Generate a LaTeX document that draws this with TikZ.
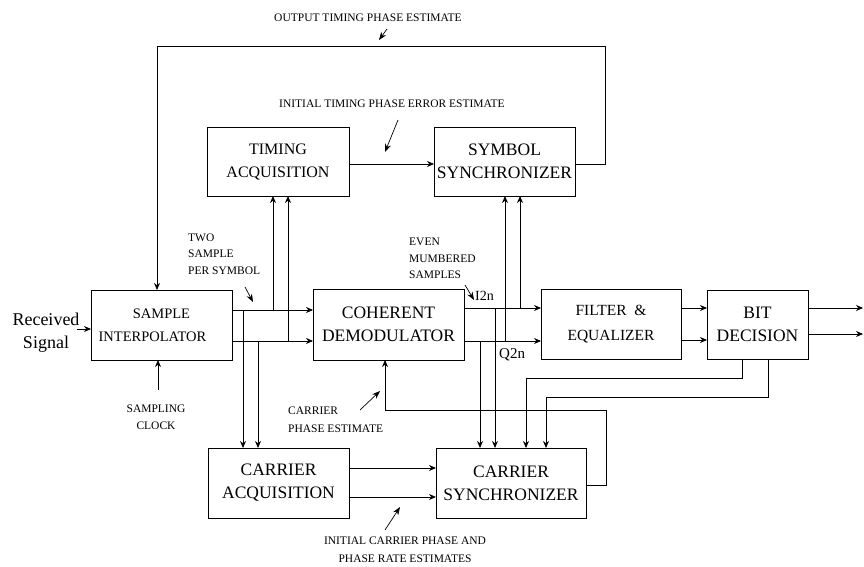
\documentclass[tikz,border=0pt]{standalone}
\usepackage{fontspec}
\setmainfont{Liberation Serif}
\usetikzlibrary{arrows.meta}

\begin{document}
\begin{tikzpicture}[
    x=1pt, y=-1pt,
    block/.style={draw, line width=0.8pt, inner sep=0pt, outer sep=0pt, align=center, font=\fontsize{17.5}{23}\selectfont},
    note/.style={inner sep=0pt, font=\fontsize{11.5}{16.5}\selectfont},
    arrow/.style={-{Stealth[length=7pt,width=6pt]}, line width=0.8pt},
    pointer/.style={-{Stealth[length=8pt,width=6pt]}, line width=0.7pt}
  ]
    \useasboundingbox (0,0) rectangle (864,567);

    % blocks
    \node[block, minimum width=141pt, minimum height=70pt, font=\fontsize{14.5}{23}\selectfont] (interp) at (161.5,325) {SAMPLE\\INTERPOLATOR\hspace*{18pt}};
    \node[block, minimum width=142pt, minimum height=69pt, font=\fontsize{16}{23}\selectfont] (tacq) at (278,161.5) {TIMING\\ACQUISITION};
    \node[block, minimum width=141pt, minimum height=69pt] (ssync) at (504.5,161.5) {SYMBOL\\SYNCHRONIZER};
    \node[block, minimum width=151pt, minimum height=71pt] (cdem) at (388.5,324.5) {COHERENT\\DEMODULATOR};
    \node[block, minimum width=140pt, minimum height=70pt, font=\fontsize{15.5}{25}\selectfont] (filt) at (611,324) {FILTER \ \&\\EQUALIZER};
    \node[block, minimum width=101pt, minimum height=69pt] (bitd) at (757.5,324.5) {BIT\\DECISION};
    \node[block, minimum width=141pt, minimum height=70pt] (cacq) at (278.5,483) {CARRIER\\ACQUISITION};
    \node[block, minimum width=150pt, minimum height=70pt] (csync) at (511,483) {CARRIER\\SYNCHRONIZER};

    % labels
    \node[inner sep=0pt, align=center, font=\fontsize{18}{23}\selectfont] (rx) at (46,333) {Received\\Signal};
    \node[note] (outlbl) at (368,18) {OUTPUT TIMING PHASE ESTIMATE};
    \node[note] (itlbl) at (392,104) {INITIAL TIMING PHASE ERROR ESTIMATE};
    \node[note, align=left, anchor=north west] (twolbl) at (188,233.5) {TWO\\SAMPLE\\PER SYMBOL};
    \node[note, align=left, anchor=north west] (evenlbl) at (409,238) {EVEN\\MUMBERED\\SAMPLES};
    \node[note, align=center, anchor=north, font=\fontsize{11.5}{17}\selectfont] (clklbl) at (156,405) {SAMPLING\\CLOCK};
    \node[note, align=left, anchor=north west, font=\fontsize{11.5}{18}\selectfont] (cplbl) at (288,407) {CARRIER\\PHASE ESTIMATE};
    \node[note, align=center, anchor=north, font=\fontsize{11.5}{18}\selectfont] (iclbl) at (405,537) {INITIAL CARRIER PHASE AND\\PHASE RATE ESTIMATES};
    \node[inner sep=0pt, anchor=west, font=\fontsize{14}{16}\selectfont] (ilbl) at (475,296) {I2n};
    \node[inner sep=0pt, anchor=west, font=\fontsize{15}{16}\selectfont] (qlbl) at (499,355) {Q2n};

    % rails
    \coordinate (ia) at ([yshift=15pt]interp.east);
    \coordinate (ib) at ([yshift=-16pt]interp.east);
    \coordinate (ca) at ([yshift=16.5pt]cdem.east);
    \coordinate (cb) at ([yshift=-16.5pt]cdem.east);
    \coordinate (fa) at ([yshift=16pt]filt.east);
    \coordinate (fb) at ([yshift=-16pt]filt.east);
    \coordinate (ba) at ([yshift=16.5pt]bitd.east);
    \coordinate (bb) at ([yshift=-9.5pt]bitd.east);
    \coordinate (outa) at ([xshift=55pt]ba);
    \coordinate (outb) at ([xshift=55pt]bb);
    \coordinate (rxin) at ([yshift=-4pt]interp.west);
    \coordinate (clkin) at (158,390);

    % taps
    \coordinate (ta) at ([xshift=11pt]ia);
    \coordinate (tb) at ([xshift=26pt]ib);
    \coordinate (tc) at ([xshift=41pt]ia);
    \coordinate (td) at ([xshift=56pt]ib);
    \coordinate (te) at ([xshift=31pt]ca);
    \coordinate (tf) at ([xshift=16pt]cb);
    \coordinate (tg) at ([xshift=41pt]cb);
    \coordinate (th) at ([xshift=56pt]ca);

    \draw[arrow] ([xshift=-3pt]rxin -| rx.east) -- (rxin);
    \draw[arrow] (clkin) -- (clkin |- interp.south);
    \draw[arrow] (ia) -- (ia -| cdem.west);
    \draw[arrow] (ib) -- (ib -| cdem.west);
    \draw[arrow] (ta) -- (ta |- cacq.north);
    \draw[arrow] (tb) -- (tb |- cacq.north);
    \draw[arrow] (tc) -- (tc |- tacq.south);
    \draw[arrow] (td) -- (td |- tacq.south);
    \draw[arrow] ([yshift=-2.5pt]tacq.east) -- ([yshift=-2.5pt]ssync.west);
    \draw[arrow] ([yshift=-2.5pt]ssync.east) -- ++(30,0) -- ++(0,-118) -| ([xshift=-4.5pt]interp.north);

    \draw[arrow] (ca) -- (ca -| filt.west);
    \draw[arrow] (cb) -- (cb -| filt.west);
    \draw[arrow] (te) -- (te |- csync.north);
    \draw[arrow] (tf) -- (tf |- csync.north);
    \draw[arrow] (tg) -- (tg |- ssync.south);
    \draw[arrow] (th) -- (th |- ssync.south);
    \draw[arrow] (fa) -- (fa -| bitd.west);
    \draw[arrow] (fb) -- (fb -| bitd.west);
    \draw[arrow] (ba) -- (outa);
    \draw[arrow] (bb) -- (outb);

    \draw[arrow] ([xshift=-15.5pt]bitd.south) -- ++(0,19) -| ([xshift=15pt]csync.north);
    \draw[arrow] ([xshift=10.5pt]bitd.south) -- ++(0,38) -| ([xshift=35pt]csync.north);
    \draw[arrow] ([yshift=-2pt]csync.east) -- ++(20,0) -- ++(0,-75) -| ([xshift=-3.5pt]cdem.south);
    \draw[arrow] ([yshift=15pt]cacq.east) -- ([yshift=15pt]csync.west);
    \draw[arrow] ([yshift=-14pt]cacq.east) -- ([yshift=-14pt]csync.west);

    % pointers
    \coordinate (pt1) at (387,29);  \coordinate (ph1) at (379,40);
    \coordinate (pt2) at (398,120); \coordinate (ph2) at (385,152);
    \coordinate (pt3) at (245,287); \coordinate (ph3) at (253,302);
    \coordinate (pt4) at (465,285); \coordinate (ph4) at (474,300);
    \coordinate (pt5) at (360,410); \coordinate (ph5) at (380,391);
    \coordinate (pt6) at (385,530); \coordinate (ph6) at (400,507);
    \draw[pointer] (pt1) -- (ph1);
    \draw[pointer] (pt2) -- (ph2);
    \draw[pointer] (pt3) -- (ph3);
    \draw[pointer] (pt4) -- (ph4);
    \draw[pointer] (pt5) -- (ph5);
    \draw[pointer] (pt6) -- (ph6);
\end{tikzpicture}
\end{document}
